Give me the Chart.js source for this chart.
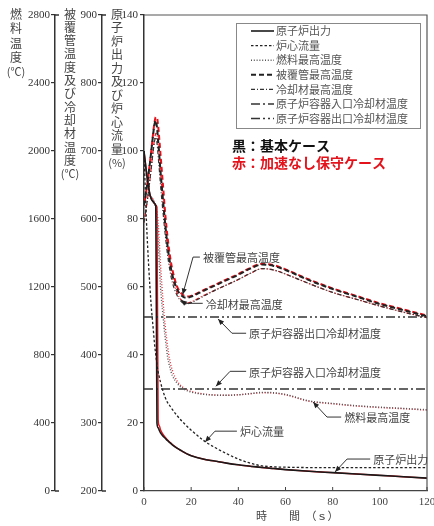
<!DOCTYPE html>
<html><head><meta charset="utf-8">
<script src="https://cdn.jsdelivr.net/npm/chart.js@4/dist/chart.umd.min.js"></script>
<style>html,body{margin:0;padding:0;background:#fff}</style>
</head><body>
<canvas id="c" width="434" height="526"></canvas>
<script>
// Time grid shared by the transient curves (s)
const timeS = [0,1,2,3,4,4.5,5,5.5,6,6.5,7,8,9,10,11,12,14,16,18,20,25,30,35,40,45,50,55,60,70,80,90,100,110,120];

// Reactor power (%)
const powerBase = [100,94,89,86,85,84.5,84,20,18.6,17.8,17.1,16.2,15.5,14.8,14.2,13.6,12.6,11.8,11.0,10.4,9.4,8.8,8.2,7.7,7.3,6.9,6.6,6.3,5.8,5.4,5.0,4.6,4.2,3.8];
const powerRed  = [100,94,89,86,85,84.5,84,83.5,21,19.2,18.0,16.7,15.8,15.0,14.3,13.7,12.6,11.8,11.0,10.4,9.4,8.8,8.2,7.7,7.3,6.9,6.6,6.3,5.8,5.4,5.0,4.6,4.2,3.8];
// Core flow (%)
const flowBase  = [100,80,66,55,47,43,40,37,35,33.5,32,29.5,27.5,26,25,24,22.2,20.6,19.2,17.9,15,12.8,11,9.4,8.2,7.4,7.1,7.0,6.9,6.9,6.9,6.9,6.9,6.9];
// Maximum fuel temperature (°C)
const fuelBase  = [1745,1745,1740,1730,1710,1690,1660,1590,1480,1330,1200,1040,900,790,725,680,635,607,592,582,569,564,563,566,573,580,578,568,530,515,502,493,486,478];
const fuelRed   = [1745,1745,1740,1730,1712,1695,1672,1640,1580,1460,1330,1130,970,850,765,710,648,615,597,586,571,565,563,566,572,578,576,566,528,513,500,491,484,476];
// Maximum cladding temperature (°C)
const cladBase  = [620,642,668,697,728,740,745,735,715,693,670,630,592,560,536,518,497,487,484,486,494,502,510,518,527,533,531,525,510,497,486,475,466,457];
const cladRed   = [620,642,668,698,730,743,750,749,737,717,695,652,608,573,546,526,501,490,486,487,495,503,511,519,528,534,532,526,511,498,487,476,467,458];
// Maximum coolant temperature (°C)
const coolBase  = [595,617,643,672,703,715,720,712,693,672,650,612,577,547,524,507,488,478,475,477,486,495,503,511,520,527,525,519,505,492,482,472,463,455];
const coolRed   = [595,617,643,673,705,718,726,724,712,692,670,630,592,560,535,515,492,480,476,478,487,495,503,511,520,527,525,519,505,492,482,472,463,455];
// Vessel inlet / outlet coolant temperature (°C)
const vesselTime = [0,120];
const inletTemp  = [350,350];
const outletTemp = [456,456];

// Axis ticks
const timeTicks = [0,20,40,60,80,100,120];
const pctRange  = [0,140,20];
const cladRange = [200,900,100];
const fuelRange = [0,2800,400];

const SERIF = '"Liberation Serif","DejaVu Serif",serif';
const JP = '"Noto Sans CJK JP","Noto Sans",sans-serif';
const RED = '#e3121b';

const pts = (xs, ys) => xs.map((x, i) => ({x, y: ys[i]}));

function ds(label, xs, ys, axis, style, order) {
  return Object.assign({
    label, data: pts(xs, ys), yAxisID: axis, pointRadius: 0, fill: false,
    cubicInterpolationMode: 'monotone', order: order
  }, style);
}

const sPower = {borderColor:'#1a1a1a', borderWidth:1.6, borderDash:[]};
const sFlow  = {borderColor:'#222', borderWidth:1.3, borderDash:[2.5,2]};
const sFuel  = {borderColor:'#555', borderWidth:1.4, borderDash:[1,1.8]};
const sClad  = {borderColor:'#222', borderWidth:2, borderDash:[5,3]};
const sCool  = {borderColor:'#333', borderWidth:1.2, borderDash:[4,2,1,2]};
const sIn    = {borderColor:'#333', borderWidth:1.5, borderDash:[9,3,2,3]};
const sOut   = {borderColor:'#333', borderWidth:1.5, borderDash:[9,3,2,3,2,3]};

const datasets = [
  ds('原子炉出力', timeS, powerBase, 'yPct', sPower, 0),
  ds('炉心流量', timeS, flowBase, 'yPct', sFlow, 0),
  ds('燃料最高温度', timeS, fuelBase, 'yFuel', sFuel, 0),
  ds('被覆管最高温度', timeS, cladBase, 'yClad', sClad, 0),
  ds('冷却材最高温度', timeS, coolBase, 'yClad', sCool, 0),
  ds('原子炉容器入口冷却材温度', vesselTime, inletTemp, 'yClad', sIn, 0),
  ds('原子炉容器出口冷却材温度', vesselTime, outletTemp, 'yClad', sOut, 0),
  ds('原子炉出力(赤)', timeS, powerRed, 'yPct', {borderColor:RED, borderWidth:1.4, borderDash:[]}, 1),
  ds('燃料最高温度(赤)', timeS, fuelRed, 'yFuel', {borderColor:'rgba(225,30,45,0.95)', borderWidth:1.4, borderDash:[1,1.8], borderDashOffset:1.4}, 1),
  ds('被覆管最高温度(赤)', timeS, cladRed, 'yClad', {borderColor:RED, borderWidth:2, borderDash:[5,3], borderDashOffset:4}, 1),
  ds('冷却材最高温度(赤)', timeS, coolRed, 'yClad', {borderColor:RED, borderWidth:1.2, borderDash:[4,2,1,2], borderDashOffset:3}, 1),
];
const legendCount = 7;

// Callouts: tip first, then elbow, then the end next to the text (data units)
const callouts = [
  {axis:'yClad', text:'被覆管最高温度', pts:[[16.4,489],[20.8,544],[23.7,544]]},
  {axis:'yClad', text:'冷却材最高温度', pts:[[15.7,481],[17.5,476],[24.9,476]]},
  {axis:'yClad', text:'原子炉容器出口冷却材温度', pts:[[31.4,453],[37.3,432],[43.3,432]]},
  {axis:'yClad', text:'原子炉容器入口冷却材温度', pts:[[30.5,354],[36.5,376],[43.3,376]]},
  {axis:'yFuel', text:'燃料最高温度', pts:[[71.7,523],[77.6,435],[83.6,435]]},
  {axis:'yPct',  text:'炉心流量', pts:[[25.9,14.4],[30.1,17.6],[39.4,17.6]]},
  {axis:'yPct',  text:'原子炉出力', pts:[[81,5.6],[86.1,9.4],[95.9,9.4]]},
];

const caseLabels = [
  {text:'黒：基本ケース', color:'#111', t:37.3, pct:101.5},
  {text:'赤：加速なし保守ケース', color:RED, t:37.3, pct:96.5},
];

const axisTitles = [
  {axis:'yFuel', dx:16, step:14.5, chars:['燃','料','温','度','(℃)']},
  {axis:'yClad', dx:15, step:13.3, chars:['被','覆','管','温','度','及','び','冷','却','材','温','度','(℃)']},
  {axis:'yPct',  dx:15, step:13.5, chars:['原','子','炉','出','力','及','び','炉','心','流','量','(%)']},
];

const overlay = {
  id: 'overlay',
  afterDraw(chart) {
    const ctx = chart.ctx, a = chart.chartArea, S = chart.scales;
    ctx.save();
    // plot frame
    ctx.strokeStyle = '#555'; ctx.lineWidth = 1.2; ctx.setLineDash([]);
    ctx.beginPath();
    ctx.moveTo(a.left, a.top); ctx.lineTo(a.right, a.top); ctx.lineTo(a.right, a.bottom);
    ctx.stroke();
    // inward time ticks
    ctx.strokeStyle = '#444'; ctx.lineWidth = 1;
    timeTicks.forEach(t => {
      const x = S.x.getPixelForValue(t);
      ctx.beginPath(); ctx.moveTo(x, a.bottom); ctx.lineTo(x, a.bottom - 4); ctx.stroke();
    });
    // end caps on the outer temperature axes
    ['yFuel','yClad'].forEach(id => {
      const r = S[id].right;
      ctx.strokeStyle = '#333'; ctx.lineWidth = 1.5;
      ctx.beginPath();
      ctx.moveTo(r, a.top); ctx.lineTo(r + 4, a.top);
      ctx.moveTo(r, a.bottom); ctx.lineTo(r + 4, a.bottom);
      ctx.stroke();
    });
    // stacked axis titles
    ctx.fillStyle = '#444'; ctx.textAlign = 'center'; ctx.textBaseline = 'middle';
    axisTitles.forEach(tt => {
      const x = S[tt.axis].left + tt.dx;
      tt.chars.forEach((c, i) => {
        ctx.font = (c.length > 1 ? '11px ' : '12px ') + JP;
        ctx.fillText(c, x, 14 + i * tt.step);
      });
    });
    // time axis title
    ctx.font = '11px ' + JP; ctx.fillStyle = '#444';
    ctx.textAlign = 'left';
    ctx.fillText('時　　間　（ｓ）', 256, 516);

    // legend
    const lx = a.left + 92, ly = a.top + 8, lw = 184, lh = 105;
    ctx.strokeStyle = '#888'; ctx.lineWidth = 1; ctx.setLineDash([]);
    ctx.strokeRect(lx + 0.5, ly + 0.5, lw, lh);
    ctx.font = '11px ' + JP; ctx.textBaseline = 'middle'; ctx.textAlign = 'left';
    for (let i = 0; i < legendCount; i++) {
      const d = chart.data.datasets[i];
      const y = ly + 8 + i * 14.6;
      ctx.strokeStyle = d.borderColor; ctx.lineWidth = d.borderWidth;
      ctx.setLineDash(d.borderDash || []);
      ctx.beginPath(); ctx.moveTo(lx + 15, y); ctx.lineTo(lx + 38, y); ctx.stroke();
      ctx.setLineDash([]);
      ctx.fillStyle = '#555';
      ctx.fillText(d.label, lx + 40, y);
    }

    // case labels
    ctx.font = 'bold 14px ' + JP;
    caseLabels.forEach(c => {
      ctx.fillStyle = c.color;
      ctx.fillText(c.text, S.x.getPixelForValue(c.t), S.yPct.getPixelForValue(c.pct));
    });

    // callouts with arrows
    ctx.font = '11px ' + JP;
    callouts.forEach(c => {
      const p = c.pts.map(q => [S.x.getPixelForValue(q[0]), S[c.axis].getPixelForValue(q[1])]);
      ctx.strokeStyle = '#333'; ctx.fillStyle = '#222'; ctx.lineWidth = 1; ctx.setLineDash([]);
      ctx.beginPath(); ctx.moveTo(p[0][0], p[0][1]);
      for (let i = 1; i < p.length; i++) ctx.lineTo(p[i][0], p[i][1]);
      ctx.stroke();
      const [tx, ty] = p[0], [bx, by] = p[1];
      const ang = Math.atan2(ty - by, tx - bx), L = 6, W = 2.6;
      const cs = Math.cos(ang), sn = Math.sin(ang);
      ctx.beginPath();
      ctx.moveTo(tx, ty);
      ctx.lineTo(tx - L * cs + W * sn, ty - L * sn - W * cs);
      ctx.lineTo(tx - L * cs - W * sn, ty - L * sn + W * cs);
      ctx.closePath(); ctx.fill();
      const e = p[p.length - 1];
      ctx.fillStyle = '#444';
      ctx.fillText(c.text, e[0] + 3, e[1] + 1);
    });
    ctx.restore();
  }
};

function yAxis(range, weight, width, pad) {
  return {
    type: 'linear', position: 'left', min: range[0], max: range[1], weight,
    afterFit: s => { s.width = width; },
    ticks: {stepSize: range[2], color: '#333', padding: pad, font: {family: SERIF, size: 11},
            callback: v => String(v)},
    grid: {drawOnChartArea: false, drawTicks: true, tickLength: 4, color: '#333', lineWidth: 1.2},
    border: {display: true, color: '#333', width: 1.5},
  };
}

new Chart(document.getElementById('c'), {
  type: 'line',
  data: {datasets},
  options: {
    responsive: false, animation: false, devicePixelRatio: 1,
    layout: {padding: {top: 15, right: 7, bottom: 0, left: 0}},
    plugins: {legend: {display: false}, tooltip: {enabled: false}},
    scales: {
      x: {
        type: 'linear', min: 0, max: 120,
        afterFit: s => { s.height = 35; s.paddingLeft = 0; s.paddingRight = 0; },
        afterBuildTicks: s => { s.ticks = timeTicks.map(v => ({value: v})); },
        ticks: {color: '#444', padding: 5, font: {family: SERIF, size: 11}, callback: v => String(v)},
        grid: {drawOnChartArea: false, drawTicks: false},
        border: {display: true, color: '#444', width: 1.2},
      },
      yPct: yAxis(pctRange, 0, 42, 2),
      yClad: yAxis(cladRange, 1, 47, 1),
      yFuel: yAxis(fuelRange, 2, 55, 1),
    }
  },
  plugins: [overlay]
});
</script>
</body></html>
